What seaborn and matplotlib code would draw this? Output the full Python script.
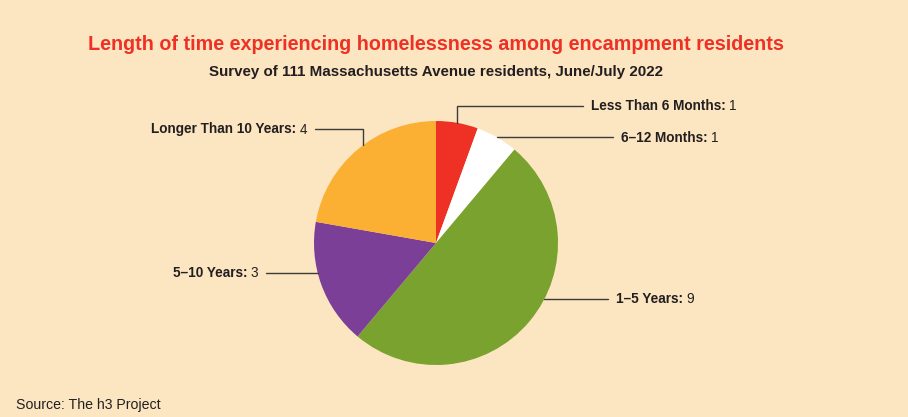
import numpy as np
import matplotlib.pyplot as plt
import seaborn as sns
from matplotlib.lines import Line2D

# data
categories = ["Less Than 6 Months", "6\u201312 Months", "1\u20135 Years", "5\u201310 Years", "Longer Than 10 Years"]
counts = [1, 1, 9, 3, 4]

colors = ["#EE3124", "#FFFFFF", "#79A22F", "#7B3F98", "#FBB034"]
bg = "#FCE5C1"
ink = "#231F20"

sns.set_theme(style="white")
plt.rcParams["font.family"] = ["Liberation Sans", "DejaVu Sans"]

W, H = 908, 417
fig = plt.figure(figsize=(W / 100, H / 100), dpi=100, facecolor=bg)

def px(x, y):
    return (x / W, 1 - y / H)

# pie axes, centre (436,243) radius 122 px
cx, cy, r = 436, 243, 122
ax = fig.add_axes([(cx - r) / W, (H - cy - r) / H, 2 * r / W, 2 * r / H])
ax.pie(counts, colors=sns.color_palette(colors), startangle=90, counterclock=False,
       radius=1, wedgeprops=dict(linewidth=0))
ax.set_xlim(-1, 1)
ax.set_ylim(-1, 1)
ax.set_aspect("auto")
ax.axis("off")

# leader lines: angle on the rim, elbow, end of line, side
leaders = [
    (80, (None, 106), 583, "right"),
    (60, None, 613, "right"),
    (-27.3, None, 608, "right"),
    (194.2, None, 266, "left"),
    (126.8, (None, 129), 315, "left"),
]

renderer = fig.canvas.get_renderer()

def two_part(x, y, name, val, side):
    fs = 9.8
    if side == "right":
        t1 = fig.text(*px(x, y), name + ": ", fontsize=fs, fontweight="bold", color=ink,
                      ha="left", va="center")
        bb = t1.get_window_extent(renderer)
        fig.text(bb.x1 / W, 1 - y / H, str(val), fontsize=fs, color=ink, ha="left", va="center")
    else:
        t2 = fig.text(*px(x, y), str(val), fontsize=fs, color=ink, ha="right", va="center")
        bb = t2.get_window_extent(renderer)
        fig.text((bb.x0 - 3) / W, 1 - y / H, name + ":", fontsize=fs, fontweight="bold",
                 color=ink, ha="right", va="center")

for (ang, elbow, xend, side), name, val in zip(leaders, categories, counts):
    a = np.deg2rad(ang)
    x0 = cx + r * np.cos(a)
    y0 = cy - r * np.sin(a)
    pts = [(x0, y0)]
    if elbow is not None:
        pts.append((x0, elbow[1]))
    yl = pts[-1][1]
    pts.append((xend, yl))
    xs = [p[0] / W for p in pts]
    ys = [1 - p[1] / H for p in pts]
    fig.add_artist(Line2D(xs, ys, color="#3C3C3C", lw=1.0, transform=fig.transFigure))
    if side == "right":
        two_part(xend + 8, yl + 0.5, name, val, side)
    else:
        two_part(xend - 8, yl + 0.5, name, val, side)

fig.text(*px(436, 44), "Length of time experiencing homelessness among encampment residents",
         fontsize=14.2, fontweight="bold", color="#EE3124", ha="center", va="center")
fig.text(*px(436, 72), "Survey of 111 Massachusetts Avenue residents, June/July 2022",
         fontsize=10.9, fontweight="bold", color=ink, ha="center", va="center")
fig.text(*px(16, 405), "Source: The h3 Project", fontsize=10.2, color=ink, ha="left", va="center")

fig.savefig("out.png", dpi=100, facecolor=bg)
